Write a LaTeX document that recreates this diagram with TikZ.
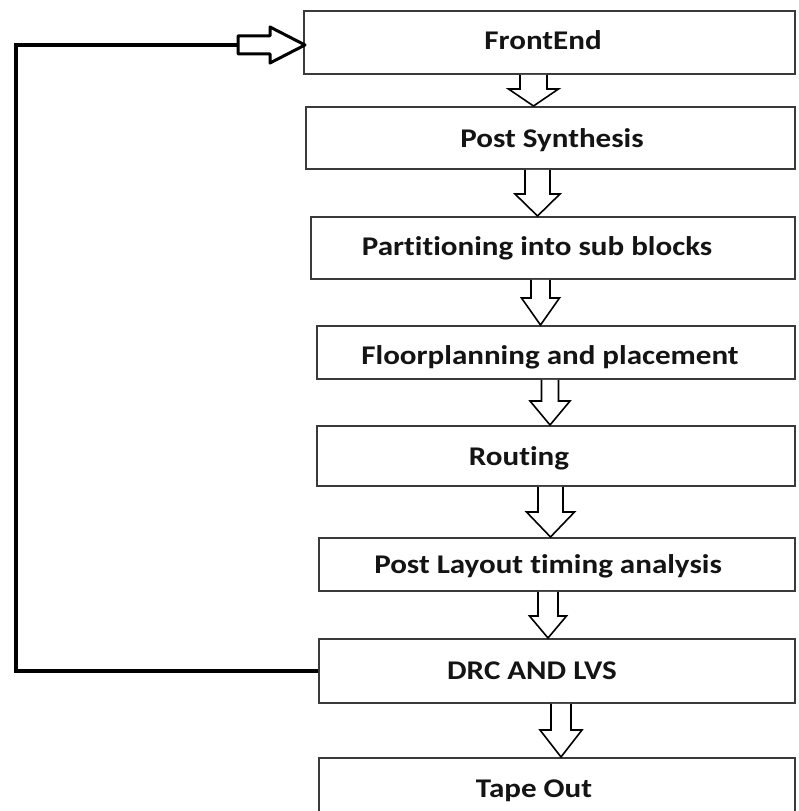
\documentclass[tikz,border=0pt]{standalone}
\usepackage{fontspec}
\usepackage{xcolor}
\usepackage{tikz}
\usetikzlibrary{calc}
\newfontfamily\rotulofont[FakeStretch=1.15, Ligatures=NoCommon]{Carlito}
\definecolor{borde}{HTML}{3A3A3A}
\definecolor{tinta}{HTML}{141414}
\tikzset{
  etapa/.style={draw=borde, line width=1.8pt, fill=white, anchor=north west, inner sep=0pt},
  rotulo/.style={text=tinta, anchor=base, inner sep=0pt, font=\rotulofont\bfseries\fontsize{27}{30}\selectfont},
  hueca/.style={draw=black, line width=1.6pt, fill=white, line join=miter},
  huecagruesa/.style={draw=black, line width=3pt, fill=white, line join=round},
  retorno/.style={draw=black, line width=4pt, line join=miter},
}
% flecha hueca hacia abajo: de, a, x, medio fuste, media punta, largo punta
\newcommand{\bloqueabajo}[6]{%
  \draw[hueca] let \p1=(#1.south), \p2=(#2.north) in
    (#3pt-#4pt,\y1) -- (#3pt-#4pt,\y2+#6pt) -- (#3pt-#5pt,\y2+#6pt) -- (#3pt,\y2)
    -- (#3pt+#5pt,\y2+#6pt) -- (#3pt+#4pt,\y2+#6pt) -- (#3pt+#4pt,\y1);
}

\begin{document}
\begin{tikzpicture}[x=1pt, y=1pt]
  \useasboundingbox (0,0) rectangle (798,811);
  \clip (0,0) rectangle (798,811);
  \fill[white] (0,0) rectangle (798,811);

  % etapas
  \node[etapa, minimum width=491pt, minimum height=63pt] (fe) at (303,801) {};
  \node[etapa, minimum width=489pt, minimum height=62pt] (ps) at (305,705) {};
  \node[etapa, minimum width=484pt, minimum height=62pt] (pt) at (310,595) {};
  \node[etapa, minimum width=478pt, minimum height=53pt] (fp) at (316,486) {};
  \node[etapa, minimum width=478pt, minimum height=60pt] (ro) at (316,386) {};
  \node[etapa, minimum width=476pt, minimum height=53pt] (pl) at (318,274) {};
  \node[etapa, minimum width=476pt, minimum height=64pt] (dr) at (318,173) {};
  \node[etapa, minimum width=476pt, minimum height=84pt] (to) at (318,54) {};

  \node[rotulo] (fe-t) at (543,761) {FrontEnd};
  \node[rotulo] (ps-t) at (552,663) {Post Synthesis};
  \node[rotulo] (pt-t) at (537,555) {Partitioning into sub blocks};
  \node[rotulo] (fp-t) at (550,446) {Floorplanning and placement};
  \node[rotulo] (ro-t) at (519,345) {Routing};
  \node[rotulo] (pl-t) at (548,237) {Post Layout timing analysis};
  \node[rotulo] (dr-t) at (532,131) {DRC AND LVS};
  \node[rotulo] (to-t) at (534,13) {Tape Out};

  % flechas huecas
  \bloqueabajo{fe}{ps}{533.5}{13.5}{25}{17}
  \bloqueabajo{ps}{pt}{537.5}{12.5}{22.5}{22}
  \bloqueabajo{pt}{fp}{540.5}{9.5}{19}{27}
  \bloqueabajo{fp}{ro}{550}{8.5}{20}{24}
  \bloqueabajo{ro}{pl}{550.5}{12.5}{24}{25}
  \bloqueabajo{pl}{dr}{548}{10}{18.5}{22}
  \bloqueabajo{dr}{to}{561}{10}{21}{27}

  % lazo de vuelta
  \coordinate (esq) at (16,766);
  \coordinate (ret) at (238,766);
  \draw[retorno] (dr.west) -| (esq) -- (ret);
  \draw[huecagruesa] let \p1=(ret), \p2=(fe.west) in
    (\x1,\y1-9pt) -- (\x2-33pt,\y1-9pt) -- (\x2-33pt,\y1-18pt) -- (\x2+2pt,\y1)
    -- (\x2-33pt,\y1+18pt) -- (\x2-33pt,\y1+9pt) -- (\x1,\y1+9pt) -- cycle;
\end{tikzpicture}
\end{document}
